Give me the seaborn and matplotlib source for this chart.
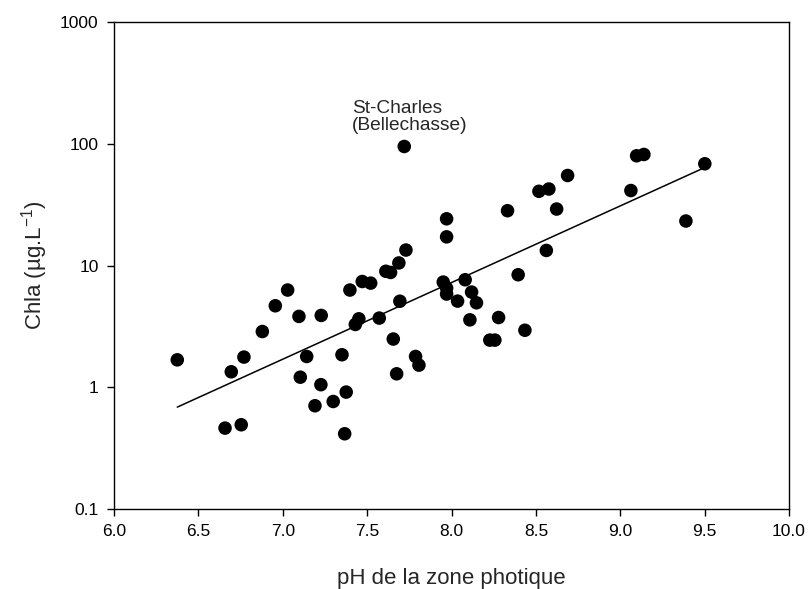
import numpy as np
import pandas as pd
import matplotlib
matplotlib.use("Agg")
import matplotlib.pyplot as plt
import seaborn as sns
from matplotlib.ticker import FixedLocator, FixedFormatter, NullLocator

# pH of the photic zone and Chla (ug/L)
ph = [6.375, 6.658, 6.754, 6.695, 6.770, 6.879, 6.956, 7.029, 7.096, 7.228,
      7.142, 7.104, 7.226, 7.191, 7.299, 7.376, 7.367, 7.351, 7.451, 7.430,
      7.572, 7.655, 7.675, 7.694, 7.720, 7.971, 7.971, 7.730, 7.688, 7.611,
      7.639, 7.471, 7.521, 7.398, 7.951, 7.971, 7.971, 8.081, 8.036, 8.119,
      8.148, 8.332, 8.395, 8.518, 8.577, 8.562, 8.623, 8.688, 8.109, 8.279,
      8.435, 8.227, 8.257, 7.787, 7.807, 9.063, 9.097, 9.140, 9.501, 9.389]
chla = [1.68, 0.462, 0.492, 1.34, 1.77, 2.87, 4.67, 6.29, 3.82, 3.89,
        1.79, 1.21, 1.05, 0.705, 0.764, 0.913, 0.415, 1.85, 3.65, 3.28,
        3.70, 2.49, 1.29, 5.09, 95.0, 24.2, 17.2, 13.4, 10.5, 8.97,
        8.77, 7.39, 7.17, 6.29, 7.31, 6.53, 5.83, 7.64, 5.10, 6.05,
        4.94, 28.2, 8.40, 40.7, 42.5, 13.3, 29.1, 54.9, 3.58, 3.74,
        2.94, 2.44, 2.44, 1.79, 1.52, 41.3, 79.7, 81.7, 68.5, 23.2]

y_ticks = [0.1, 1, 10, 100, 1000]
y_tick_labels = ["0.1", "1", "10", "100", "1000"]
x_ticks = [6.0, 6.5, 7.0, 7.5, 8.0, 8.5, 9.0, 9.5, 10.0]

df = pd.DataFrame({"pH": ph, "Chla": chla})

sns.set_style("ticks")
plt.rcParams["font.family"] = ["Liberation Sans", "DejaVu Sans"]
plt.rcParams["axes.linewidth"] = 1.0
plt.rcParams["mathtext.default"] = "regular"

fig = plt.figure(figsize=(8.09, 5.89), dpi=100)
ax = fig.add_axes([0.1409, 0.1358, 0.8344, 0.8268])

sns.scatterplot(data=df, x="pH", y="Chla", ax=ax, color="black",
                s=95, edgecolor="none", legend=False, zorder=3)

# log-linear regression line over the observed pH range
slope, intercept = np.polyfit(df["pH"], np.log10(df["Chla"]), 1)
xfit = np.array([df["pH"].min(), df["pH"].max()])
ax.plot(xfit, 10 ** (intercept + slope * xfit), color="black", lw=1.1, zorder=2)

ax.set_yscale("log")
ax.set_xlim(6.0, 10.0)
ax.set_ylim(0.1, 1000)
ax.xaxis.set_major_locator(FixedLocator(x_ticks))
ax.set_xticklabels([f"{t:.1f}" for t in x_ticks])
ax.yaxis.set_major_locator(FixedLocator(y_ticks))
ax.yaxis.set_major_formatter(FixedFormatter(y_tick_labels))
ax.yaxis.set_minor_locator(NullLocator())
ax.tick_params(axis="both", which="major", direction="out", length=5,
               width=1.0, labelsize=12.5, colors="black", pad=6)

for sp in ax.spines.values():
    sp.set_color("black")
    sp.set_visible(True)

ax.set_xlabel("pH de la zone photique", fontsize=16, labelpad=21)
ax.set_ylabel("Chla (µg.L$^{-1}$)", fontsize=16, labelpad=7)

ax.text(7.41, 120, "St-Charles\n(Bellechasse)", fontsize=13.8,
        ha="left", va="bottom", linespacing=1.0)

fig.savefig("out.png", dpi=100)
plt.close(fig)
